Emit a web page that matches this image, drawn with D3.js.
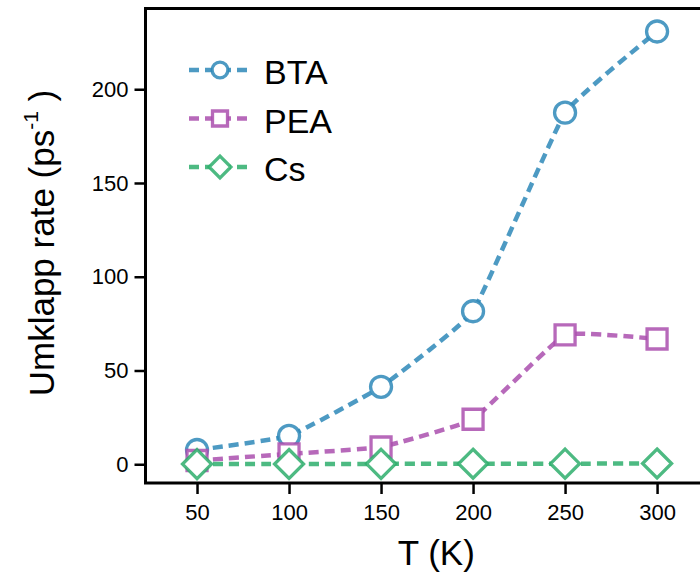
<!DOCTYPE html>
<html>
<head>
<meta charset="utf-8">
<script src="https://cdn.jsdelivr.net/npm/d3@7"></script>
<style>
  body { margin: 0; background: #fff; }
  svg { display: block; font-family: "Liberation Sans", Arial, sans-serif; }
</style>
</head>
<body>
<svg id="chart" width="700" height="582"></svg>
<script>
// data
const temps = [50, 100, 150, 200, 250, 300];
const btaRate = [7.6, 15.1, 41.3, 81.6, 187.5, 230.8];
const peaRate = [2.0, 5.5, 9.2, 24.0, 69.0, 66.8];
const csRate = [0.1, 0.15, 0.2, 0.25, 0.3, 0.4];
const xTicks = [50, 100, 150, 200, 250, 300];
const yTicks = [0, 50, 100, 150, 200];
const seriesNames = ["BTA", "PEA", "Cs"];

const series = [
  { name: seriesNames[0], values: btaRate, color: "#2e88b8", shape: "circle" },
  { name: seriesNames[1], values: peaRate, color: "#aa4fae", shape: "square" },
  { name: seriesNames[2], values: csRate, color: "#2eae6c", shape: "diamond" }
];

const plot = { left: 145.5, right: 727, top: 8.6, bottom: 483 };

const svg = d3.select("#chart");

const x = d3.scaleLinear().domain([22, 338]).range([plot.left, plot.right]);
const y = d3.scaleLinear().domain([-10, 243]).range([plot.bottom, plot.top]);

// marker path builder (size = half width at stroke centre)
function markerPath(shape, s) {
  if (shape === "circle") {
    return "M" + s + ",0A" + s + "," + s + " 0 1,1 " + (-s) + ",0A" + s + "," + s + " 0 1,1 " + s + ",0Z";
  }
  if (shape === "square") {
    return "M" + (-s) + "," + (-s) + "H" + s + "V" + s + "H" + (-s) + "Z";
  }
  return "M0," + (-s) + "L" + s + ",0L0," + s + "L" + (-s) + ",0Z";
}
const markerSize = { circle: 10.5, square: 10, diamond: 14.5 };

// series lines + markers
const line = d3.line()
  .x((d, i) => x(temps[i]))
  .y(d => y(d))
  .curve(d3.curveCardinal.tension(0.7));

series.forEach(function(s) {
  const g = svg.append("g");
  g.append("path")
    .attr("d", line(s.values))
    .attr("fill", "none")
    .attr("stroke", s.color)
    .attr("stroke-opacity", 0.85)
    .attr("stroke-width", 4.5)
    .attr("stroke-dasharray", "10,6");

  g.selectAll(".pt")
    .data(s.values)
    .enter()
    .append("path")
    .attr("class", "pt")
    .attr("transform", (d, i) => "translate(" + x(temps[i]) + "," + y(d) + ")")
    .attr("d", markerPath(s.shape, markerSize[s.shape]))
    .attr("fill", "#fff")
    .attr("stroke", s.color)
    .attr("stroke-opacity", 0.85)
    .attr("stroke-width", 3.3);
});

// frame (right side falls outside the picture)
svg.append("path")
  .attr("d", "M" + plot.right + "," + plot.top + "H" + plot.left + "V" + plot.bottom + "H" + plot.right)
  .attr("fill", "none")
  .attr("stroke", "#000")
  .attr("stroke-width", 3);

// axes
const xAxis = svg.append("g")
  .attr("transform", "translate(0," + plot.bottom + ")")
  .call(d3.axisBottom(x).tickValues(xTicks).tickSize(11).tickPadding(10));

const yAxis = svg.append("g")
  .attr("transform", "translate(" + plot.left + ",0)")
  .call(d3.axisLeft(y).tickValues(yTicks).tickSize(11).tickPadding(6));

[xAxis, yAxis].forEach(function(a) {
  a.select(".domain").remove();
  a.selectAll(".tick line").attr("stroke", "#000").attr("stroke-width", 2.5);
  a.selectAll(".tick text")
    .attr("fill", "#000")
    .style("font-size", "22px")
    .style("font-family", "'Liberation Sans', Arial, sans-serif");
});

// axis titles
svg.append("text")
  .attr("x", (plot.left + plot.right) / 2)
  .attr("y", 565)
  .attr("text-anchor", "middle")
  .style("font-size", "35px")
  .text("T (K)");

const yTitle = svg.append("text")
  .attr("transform", "translate(54,243) rotate(-90)")
  .attr("text-anchor", "middle")
  .style("font-size", "35px");
yTitle.append("tspan").text("Umklapp rate (ps");
yTitle.append("tspan").attr("dy", -16).style("font-size", "21px").text("-1");
yTitle.append("tspan").attr("dy", 16).text(" )");

// legend
const legend = svg.append("g");
series.forEach(function(s, i) {
  const ly = 70 + i * 48.5;
  legend.append("line")
    .attr("x1", 189).attr("x2", 249)
    .attr("y1", ly).attr("y2", ly)
    .attr("stroke", s.color)
    .attr("stroke-opacity", 0.85)
    .attr("stroke-width", 4.5)
    .attr("stroke-dasharray", "10,6");
  legend.append("path")
    .attr("transform", "translate(220," + ly + ")")
    .attr("d", markerPath(s.shape, markerSize[s.shape] * 0.75))
    .attr("fill", "#fff")
    .attr("stroke", s.color)
    .attr("stroke-opacity", 0.85)
    .attr("stroke-width", 3.3);
  legend.append("text")
    .attr("x", 264)
    .attr("y", ly + 14)
    .style("font-size", "34px")
    .text(s.name);
});
</script>
</body>
</html>
